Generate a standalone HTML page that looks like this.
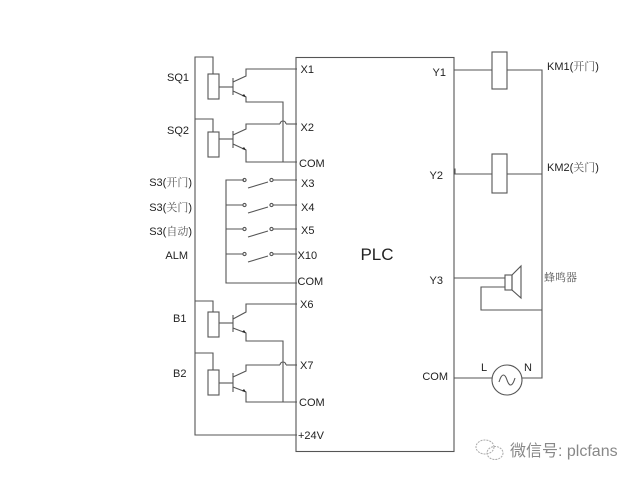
<!DOCTYPE html>
<html><head><meta charset="utf-8"><style>
html,body{margin:0;padding:0;background:#fff;}
svg{display:block;}
text{font-family:"Liberation Sans","Noto Sans CJK SC",sans-serif;fill:#222;}
.cj{font-family:"Liberation Serif","Noto Serif CJK SC",serif;fill:#555;}
</style></head><body>
<svg width="640" height="480" viewBox="0 0 640 480" xmlns="http://www.w3.org/2000/svg">
<g fill="none" stroke="#555" stroke-width="1.1">
<!-- PLC box -->
<rect x="296" y="57.5" width="158" height="394"/>
<!-- left rail -->
<polyline points="213,74 213,57 195,57 195,435 297,435"/>
<!-- SQ1 -->
<rect x="208" y="74" width="11" height="25"/>
<line x1="219" y1="87" x2="233" y2="87"/>
<line x1="233" y1="78" x2="233" y2="95"/>
<polyline points="233,82 246,76 246,69 297,69"/>
<polyline points="233,91 246,97 246,102 283,102 283,162 297,162"/>
<!-- SQ2 -->
<polyline points="195,119 213,119 213,132"/>
<rect x="208" y="132" width="11" height="25"/>
<line x1="219" y1="139" x2="233" y2="139"/>
<line x1="233" y1="131" x2="233" y2="148"/>
<polyline points="233,135 246,129 246,124 280,124"/>
<path d="M280,124 A3,3 0 0 1 286,124"/>
<line x1="286" y1="124" x2="297" y2="124"/>
<polyline points="233,144 246,150 246,162 283,162"/>
<!-- switches -->
<polyline points="244,180 226,180 226,283 297,283"/>
<line x1="226" y1="205" x2="243" y2="205"/>
<line x1="226" y1="229" x2="243" y2="229"/>
<line x1="226" y1="254" x2="243" y2="254"/>
<line x1="273" y1="180" x2="297" y2="180"/>
<line x1="273" y1="205" x2="297" y2="205"/>
<line x1="273" y1="229" x2="297" y2="229"/>
<line x1="273" y1="254" x2="297" y2="254"/>
<line x1="248" y1="188" x2="268" y2="182"/>
<line x1="248" y1="213" x2="268" y2="207"/>
<line x1="248" y1="237" x2="268" y2="231"/>
<line x1="248" y1="262" x2="268" y2="256"/>
<circle cx="244.5" cy="180" r="1.6"/><circle cx="271.5" cy="180" r="1.6"/>
<circle cx="244.5" cy="205" r="1.6"/><circle cx="271.5" cy="205" r="1.6"/>
<circle cx="244.5" cy="229" r="1.6"/><circle cx="271.5" cy="229" r="1.6"/>
<circle cx="244.5" cy="254" r="1.6"/><circle cx="271.5" cy="254" r="1.6"/>
<!-- B1 -->
<polyline points="195,301 213,301 213,312"/>
<rect x="208" y="312" width="11" height="25"/>
<line x1="219" y1="323" x2="233" y2="323"/>
<line x1="233" y1="315" x2="233" y2="332"/>
<polyline points="233,319 246,312 246,304 297,304"/>
<polyline points="233,328 246,333 246,341 283,341 283,402 297,402"/>
<!-- B2 -->
<polyline points="195,353 213,353 213,370"/>
<rect x="208" y="370" width="11" height="25"/>
<line x1="219" y1="383" x2="233" y2="383"/>
<line x1="233" y1="373" x2="233" y2="392"/>
<polyline points="233,377 246,371 246,365 280,365"/>
<path d="M280,365 A3,3 0 0 1 286,365"/>
<line x1="286" y1="365" x2="297" y2="365"/>
<polyline points="233,387 246,392 246,402 283,402"/>
<!-- outputs -->
<line x1="454" y1="70" x2="492" y2="70"/>
<rect x="492" y="52" width="15" height="37"/>
<polyline points="507,70 542,70 542,378 522,378"/>
<polyline points="454,169 455,169 455,174 492,174"/>
<rect x="492" y="154" width="15" height="39"/>
<line x1="507" y1="174" x2="542" y2="174"/>
<line x1="454" y1="278" x2="505" y2="278"/>
<rect x="505" y="275" width="7" height="15"/>
<polygon points="512,275 521,266 521,298 512,290"/>
<polyline points="505,287 481,287 481,310 542,310"/>
<line x1="454" y1="378" x2="492" y2="378"/>
<circle cx="507" cy="380" r="15"/>
<path d="M499,382 C502,372 505,374 507,380 C509,386 512,388 515,378"/>
</g>
<!-- arrow dots -->
<g fill="#222">
<polygon points="246,97 242,96 244,94"/>
<polygon points="246,150 242,149 244,147"/>
<polygon points="246,333 242,332 244,330"/>
<polygon points="246,392 242,391 244,389"/>
</g>
<g font-size="11">
<text x="167" y="81">SQ1</text>
<text x="167" y="134">SQ2</text>
<text x="173" y="322">B1</text>
<text x="173" y="377">B2</text>
<text x="192" y="186" text-anchor="end">S3(<tspan class="cj">开门</tspan>)</text>
<text x="192" y="211" text-anchor="end">S3(<tspan class="cj">关门</tspan>)</text>
<text x="192" y="235" text-anchor="end">S3(<tspan class="cj">自动</tspan>)</text>
<text x="188" y="259" text-anchor="end">ALM</text>
<text x="300.5" y="73">X1</text>
<text x="300.5" y="131">X2</text>
<text x="299" y="167">COM</text>
<text x="301" y="187">X3</text>
<text x="301" y="211">X4</text>
<text x="301" y="234">X5</text>
<text x="297.5" y="259">X10</text>
<text x="297.5" y="285">COM</text>
<text x="300" y="308">X6</text>
<text x="300" y="369">X7</text>
<text x="299" y="406">COM</text>
<text x="298" y="439">+24V</text>
<text x="446" y="76" text-anchor="end">Y1</text>
<text x="443" y="179" text-anchor="end">Y2</text>
<text x="443" y="284" text-anchor="end">Y3</text>
<text x="448" y="380" text-anchor="end">COM</text>
<text x="547" y="70">KM1(<tspan class="cj">开门</tspan>)</text>
<text x="547" y="171">KM2(<tspan class="cj">关门</tspan>)</text>
<text x="544" y="281" class="cj">蜂鸣器</text>
<text x="481" y="371">L</text>
<text x="524" y="371">N</text>
</g>
<text x="377" y="260" font-size="17" text-anchor="middle">PLC</text>
<!-- watermark -->
<g fill="none" stroke="#aaa" stroke-width="1" stroke-dasharray="2,1">
<ellipse cx="485" cy="447" rx="9" ry="7"/>
<ellipse cx="495" cy="453" rx="8" ry="6.5"/>
</g>
<text x="510" y="456" font-size="16" style="fill:#888">微信号: plcfans</text>
</svg>
</body></html>
